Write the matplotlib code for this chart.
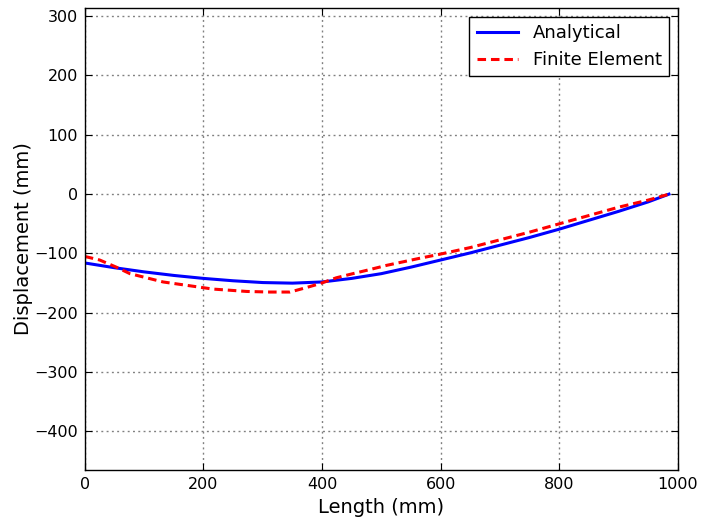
import matplotlib
matplotlib.use('Agg')
import matplotlib.pyplot as plt

# analytical solution
x_analytical = [0, 50, 100, 150, 200, 250, 300, 350, 400, 450, 500, 550, 600, 650, 700,
                750, 800, 850, 900, 950, 985]
y_analytical = [-116, -124, -131, -137, -142, -146, -149, -150, -148, -142, -134, -123, -111,
                -99, -86, -73, -59, -44, -29, -13, 0]

# finite element result
x_fe = [0, 25, 53, 76, 104, 132, 160, 188, 216, 245, 273, 312, 346, 368, 396, 424, 452,
        481, 509, 537, 565, 600, 650, 700, 750, 800, 850, 900, 950, 985]
y_fe = [-105, -111, -123, -134, -141, -148, -152, -156, -160, -162, -164, -165, -165, -159,
        -151, -141, -134, -127, -120, -114, -108, -101, -90, -77, -64, -50, -36, -22, -10, 0]

y_ticks = [-400, -300, -200, -100, 0, 100, 200, 300]
x_ticks = [0, 200, 400, 600, 800, 1000]

fig = plt.figure(figsize=(7.01, 5.24), dpi=100)
ax = fig.add_axes([0.121, 0.103, 0.846, 0.882])

ax.plot(x_analytical, y_analytical, color='#0000ff', linewidth=2.2, label='Analytical')
ax.plot(x_fe, y_fe, color='#ff0000', linewidth=2.2, linestyle='--', dashes=(2.8, 1.6),
        label='Finite Element')

ax.set_xlim(0, 1000)
ax.set_ylim(-465, 314)
ax.set_xticks(x_ticks)
ax.set_yticks(y_ticks)
ax.grid(True, linestyle=(0, (1.4, 2.4)), color='#808080', linewidth=1.0)

ax.tick_params(direction='in', length=5, top=True, right=True, labelsize=11.5, pad=5)
for s in ax.spines.values():
    s.set_linewidth(1.0)

ax.set_xlabel('Length (mm)', fontsize=14)
ax.set_ylabel('Displacement (mm)', fontsize=14, labelpad=1)

leg = ax.legend(loc='upper right', fontsize=13, fancybox=False, framealpha=1,
                edgecolor='black', handlelength=2.3, borderaxespad=0.5)
leg.get_frame().set_linewidth(1.0)

fig.savefig('out.png', dpi=100, facecolor='white')
